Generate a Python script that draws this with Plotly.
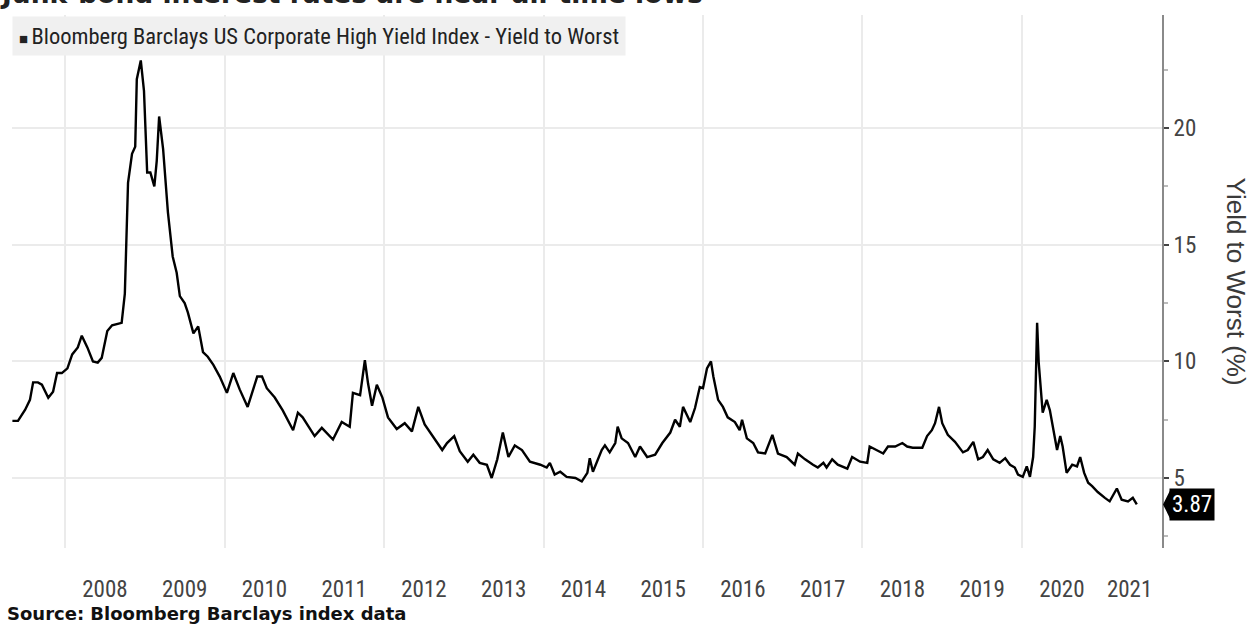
import plotly.graph_objects as go

# ---- data ----
year_frac = [
    2007.34, 2007.41, 2007.50, 2007.56, 2007.60, 2007.66, 2007.71, 2007.79, 2007.85, 2007.90,
    2007.96, 2008.03, 2008.09, 2008.16, 2008.21, 2008.28, 2008.35, 2008.41, 2008.46, 2008.53,
    2008.59, 2008.71, 2008.75, 2008.79, 2008.84, 2008.88, 2008.90, 2008.95, 2008.99, 2009.03,
    2009.07, 2009.12, 2009.15, 2009.18, 2009.23, 2009.29, 2009.35, 2009.40, 2009.44, 2009.50,
    2009.54, 2009.61, 2009.67, 2009.73, 2009.79, 2009.86, 2009.94, 2010.03, 2010.11, 2010.19,
    2010.29, 2010.41, 2010.47, 2010.53, 2010.63, 2010.73, 2010.86, 2010.92, 2010.98, 2011.13,
    2011.22, 2011.36, 2011.47, 2011.57, 2011.61, 2011.70, 2011.76, 2011.80, 2011.85, 2011.91,
    2011.98, 2012.05, 2012.16, 2012.26, 2012.35, 2012.43, 2012.51, 2012.61, 2012.73, 2012.79,
    2012.88, 2012.95, 2013.05, 2013.12, 2013.20, 2013.29, 2013.35, 2013.42, 2013.49, 2013.56,
    2013.64, 2013.73, 2013.83, 2013.96, 2014.04, 2014.08, 2014.14, 2014.21, 2014.29, 2014.40,
    2014.48, 2014.55, 2014.58, 2014.62, 2014.73, 2014.77, 2014.83, 2014.90, 2014.93, 2014.98,
    2015.06, 2015.15, 2015.21, 2015.30, 2015.40, 2015.49, 2015.59, 2015.65, 2015.71, 2015.75,
    2015.84, 2015.90, 2015.96, 2016.00, 2016.05, 2016.10, 2016.13, 2016.19, 2016.25, 2016.31,
    2016.40, 2016.46, 2016.49, 2016.55, 2016.63, 2016.69, 2016.78, 2016.87, 2016.94, 2017.05,
    2017.15, 2017.19, 2017.28, 2017.38, 2017.44, 2017.51, 2017.55, 2017.62, 2017.69, 2017.81,
    2017.87, 2017.97, 2018.06, 2018.09, 2018.18, 2018.26, 2018.32, 2018.41, 2018.50, 2018.56,
    2018.63, 2018.75, 2018.81, 2018.87, 2018.91, 2018.96, 2019.00, 2019.07, 2019.16, 2019.26,
    2019.32, 2019.39, 2019.45, 2019.51, 2019.57, 2019.64, 2019.72, 2019.79, 2019.85, 2019.91,
    2019.95, 2020.01, 2020.06, 2020.10, 2020.14, 2020.16, 2020.19, 2020.21, 2020.26, 2020.31,
    2020.35, 2020.39, 2020.44, 2020.48, 2020.51, 2020.56, 2020.63, 2020.69, 2020.73, 2020.78,
    2020.83, 2020.88, 2020.95, 2021.04, 2021.10, 2021.19, 2021.25, 2021.33, 2021.39, 2021.44,
]

yield_to_worst = [
    7.45, 7.45, 7.93, 8.35, 9.10, 9.10, 9.00, 8.44, 8.70, 9.50,
    9.50, 9.70, 10.30, 10.60, 11.10, 10.60, 10.00, 9.95, 10.15, 11.30,
    11.55, 11.65, 12.90, 17.65, 18.90, 19.20, 22.10, 22.90, 21.60, 18.10,
    18.10, 17.50, 18.60, 20.50, 19.10, 16.40, 14.50, 13.80, 12.80, 12.50,
    12.10, 11.20, 11.50, 10.40, 10.20, 9.85, 9.35, 8.65, 9.50, 8.80,
    8.05, 9.35, 9.35, 8.85, 8.45, 7.90, 7.05, 7.80, 7.60, 6.80,
    7.15, 6.65, 7.40, 7.20, 8.65, 8.55, 10.05, 9.05, 8.10, 9.00,
    8.45, 7.60, 7.10, 7.35, 7.00, 8.05, 7.30, 6.80, 6.20, 6.50,
    6.80, 6.15, 5.70, 6.00, 5.65, 5.57, 5.00, 5.80, 6.95, 5.90,
    6.40, 6.20, 5.70, 5.57, 5.45, 5.65, 5.15, 5.27, 5.05, 5.00,
    4.85, 5.22, 5.85, 5.27, 6.20, 6.40, 6.10, 6.50, 7.20, 6.70,
    6.50, 5.90, 6.35, 5.90, 6.00, 6.50, 6.95, 7.50, 7.20, 8.05,
    7.40, 8.00, 8.90, 8.85, 9.70, 10.00, 9.35, 8.35, 8.05, 7.60,
    7.40, 7.05, 7.50, 6.70, 6.50, 6.10, 6.05, 6.85, 6.05, 5.90,
    5.57, 6.05, 5.80, 5.57, 5.45, 5.65, 5.45, 5.80, 5.57, 5.40,
    5.90, 5.70, 5.65, 6.35, 6.20, 6.05, 6.35, 6.35, 6.50, 6.35,
    6.30, 6.30, 6.80, 7.05, 7.35, 8.05, 7.35, 6.85, 6.55, 6.10,
    6.20, 6.55, 5.80, 5.90, 6.20, 5.80, 5.65, 5.85, 5.57, 5.45,
    5.15, 5.05, 5.50, 5.05, 5.90, 7.20, 11.65, 9.95, 7.80, 8.35,
    7.90, 7.20, 6.20, 6.80, 6.35, 5.22, 5.57, 5.50, 5.90, 5.22,
    4.80, 4.65, 4.40, 4.15, 4.00, 4.55, 4.07, 4.00, 4.15, 3.87,
]

year_labels = ["2008", "2009", "2010", "2011", "2012", "2013", "2014",
               "2015", "2016", "2017", "2018", "2019", "2020", "2021"]
year_label_pos = [2008.5, 2009.5, 2010.5, 2011.5, 2012.5, 2013.5, 2014.5,
                  2015.5, 2016.5, 2017.5, 2018.5, 2019.5, 2020.5, 2021.35]
year_grid = [2008, 2010, 2012, 2014, 2016, 2018, 2020]
y_ticks = [5, 10, 15, 20]
y_minor = [2.5, 7.5, 12.5, 17.5, 22.5]

series_name = "Bloomberg Barclays US Corporate High Yield Index - Yield to Worst"
title_text = "Junk-bond interest rates are near all-time lows"
source_text = "Source: Bloomberg Barclays index data"
y_title = "Yield to Worst (%)"

FONT = "Liberation Sans Narrow, Roboto Condensed, Arial Narrow, Liberation Sans, sans-serif"

fig = go.Figure()
fig.add_trace(go.Scatter(
    x=year_frac, y=yield_to_worst, mode="lines", name=series_name,
    line=dict(color="#000000", width=2.4), hoverinfo="x+y",
))

last_val = yield_to_worst[-1]

fig.update_layout(
    width=1253, height=624,
    margin=dict(l=12, r=91, t=15, b=76),
    plot_bgcolor="white", paper_bgcolor="white",
    showlegend=False,
    font=dict(family=FONT, color="#444444"),
    xaxis=dict(
        range=[2007.335, 2021.756],
        tickmode="array", tickvals=year_label_pos, ticktext=year_labels,
        showgrid=False, zeroline=False, showline=False, ticks="",
        tickfont=dict(size=23, color="#444444", family=FONT),
        ticklabelstandoff=25,
        minor=dict(tickmode="array", tickvals=year_grid, showgrid=True,
                   gridcolor="#ebebeb", gridwidth=1.5, ticks=""),
    ),
    yaxis=dict(
        side="right", range=[2, 24.85],
        tickmode="array", tickvals=y_ticks,
        showgrid=True, gridcolor="#ebebeb", gridwidth=1.5,
        zeroline=False, showline=True, linecolor="#8a8a8a", linewidth=2,
        ticks="outside", ticklen=5, tickwidth=1.5, tickcolor="#444444",
        tickfont=dict(size=23, color="#444444", family=FONT),
        minor=dict(tickmode="array", tickvals=y_minor, ticks="outside",
                   ticklen=4, tickcolor="#bbbbbb", showgrid=False),
    ),
)

# legend-like box
fig.add_annotation(
    xref="paper", yref="paper", x=0, y=1, yshift=-1, xanchor="left", yanchor="top",
    text='<span style="font-size:15px">■ </span>' + series_name,
    showarrow=False, align="left", valign="middle",
    font=dict(size=22.5, color="#222222", family=FONT),
    bgcolor="#f0f0f0", borderpad=6, height=26,
)

# cut-off headline at the top
fig.add_annotation(
    xref="paper", yref="paper", x=-0.012, y=1.0075, xanchor="left", yanchor="bottom",
    text="<b>" + title_text + "</b>", showarrow=False,
    font=dict(size=26.5, color="#222222", family="DejaVu Sans"),
)

# source note
fig.add_annotation(
    xref="paper", yref="paper", x=-0.006, y=-0.122, xanchor="left", yanchor="middle",
    text="<b>" + source_text + "</b>", showarrow=False,
    font=dict(size=18, color="#111111", family="DejaVu Sans"),
)

# y axis title (reads top to bottom)
fig.add_annotation(
    xref="paper", yref="paper", x=1.0652, y=0.50, xanchor="center", yanchor="middle",
    text=y_title, textangle=90, showarrow=False,
    font=dict(size=26, color="#3a3a3a", family="Liberation Sans, Arial, sans-serif"),
)

# last value tag
fig.add_shape(
    type="path", xref="paper", yref="y", xsizemode="pixel", ysizemode="pixel",
    xanchor=1, yanchor=last_val, path="M 1 0 L 8 14 L 8 -14 Z",
    fillcolor="#000000", line=dict(width=0),
)
fig.add_annotation(
    xref="paper", yref="y", x=1, y=last_val, xanchor="left", yanchor="middle",
    xshift=7, text=f"{last_val:.2f}", showarrow=False,
    font=dict(size=23, color="#ffffff", family=FONT),
    bgcolor="#000000", borderpad=2,
)

fig.write_html(
    "out.html",
    config={"displayModeBar": False},
    post_script="document.body.style.margin='0px';document.body.style.overflow='hidden';",
)
